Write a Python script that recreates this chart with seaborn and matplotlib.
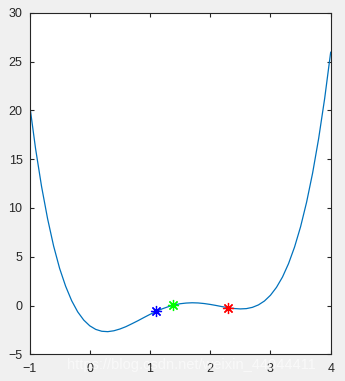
import matplotlib
matplotlib.use("Agg")
import matplotlib.pyplot as plt
import seaborn as sns
import pandas as pd

# curve values
x_vals = [-1.0, -0.9, -0.8, -0.7, -0.6, -0.5, -0.4, -0.3, -0.2, -0.1,
          0.0, 0.1, 0.2, 0.3, 0.4, 0.5, 0.6, 0.7, 0.8, 0.9,
          1.0, 1.1, 1.2, 1.3, 1.4, 1.5, 1.6, 1.7, 1.8, 1.9,
          2.0, 2.1, 2.2, 2.3, 2.4, 2.5, 2.6, 2.7, 2.8, 2.9,
          3.0, 3.1, 3.2, 3.3, 3.4, 3.5, 3.6, 3.7, 3.8, 3.9, 4.0]
y_vals = [20.7, 16.1, 12.2, 8.9, 6.1, 3.8, 1.97, 0.49, -0.65, -1.49,
          -2.08, -2.45, -2.64, -2.68, -2.59, -2.41, -2.17, -1.87, -1.56, -1.23,
          -0.91, -0.62, -0.35, -0.13, 0.05, 0.18, 0.25, 0.28, 0.26, 0.20,
          0.11, 0.0, -0.12, -0.23, -0.31, -0.35, -0.32, -0.19, 0.06, 0.46,
          1.05, 1.86, 2.92, 4.29, 5.99, 8.07, 10.59, 13.58, 17.11, 21.22, 25.97]

# marked points
pt_x = [1.10, 1.39, 2.30]
pt_y = [-0.60, 0.05, -0.26]
pt_colors = ["#0000ff", "#00ff00", "#ff0000"]

x_ticks = [-1, 0, 1, 2, 3, 4]
y_ticks = [-5, 0, 5, 10, 15, 20, 25, 30]

sns.set_style("ticks")
plt.rcParams["font.family"] = ["Liberation Sans", "DejaVu Sans"]

fig = plt.figure(figsize=(3.45, 3.81), dpi=100, facecolor="#f0f0f0")
ax = fig.add_axes([29.5 / 345, 1 - 354.3 / 381, (330.7 - 29.5) / 345, (354.3 - 12.7) / 381])
ax.set_facecolor("white")

df = pd.DataFrame({"x": x_vals, "y": y_vals})
sns.lineplot(data=df, x="x", y="y", ax=ax, sort=False, color="#0072BD", linewidth=0.9)

for px, py, c in zip(pt_x, pt_y, pt_colors):
    ax.plot([px], [py], linestyle="none", marker=(8, 2, 0), markersize=8,
            markeredgewidth=0.9, color=c)

ax.set_xlim(-1, 4)
ax.set_ylim(-5, 30)
ax.set_xticks(x_ticks)
ax.set_yticks(y_ticks)
ax.set_xlabel("")
ax.set_ylabel("")

for s in ax.spines.values():
    s.set_visible(True)
    s.set_color("#262626")
    s.set_linewidth(0.8)
ax.tick_params(direction="in", length=3, width=0.8, colors="#262626",
               labelsize=9, top=True, right=True)
ax.tick_params(axis="y", pad=5)
ax.tick_params(axis="x", pad=6)
for lab in ax.get_xticklabels() + ax.get_yticklabels():
    lab.set_color("#262626")

fig.text(0.195, 0.043, "https://blog.csdn.net/weixin_44044411", color="white",
         alpha=0.6, fontsize=10.5, ha="left", va="center", zorder=0)

fig.savefig("out.png", dpi=100, facecolor=fig.get_facecolor())
